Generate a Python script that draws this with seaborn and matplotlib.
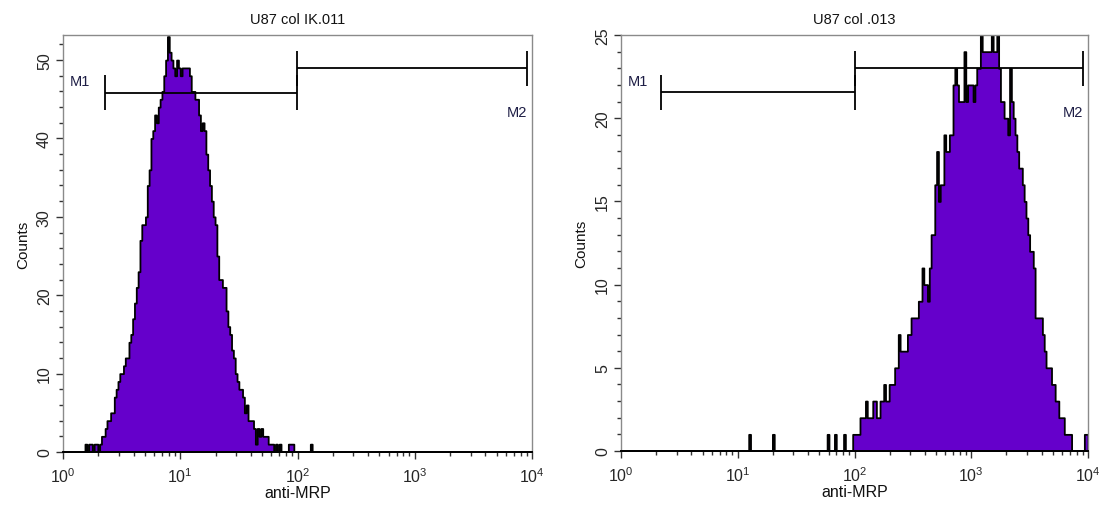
import numpy as np
import pandas as pd
import matplotlib
matplotlib.use("Agg")
import matplotlib.pyplot as plt
import matplotlib.transforms as mtransforms
from matplotlib.ticker import FixedLocator, MultipleLocator, NullFormatter
import seaborn as sns

# ---- acquisition layout: 256 log channels over four decades ----
N_CHANNELS = 256
DECADES = 4

titles = ["U87 col IK.011", "U87 col .013"]
x_label = "anti-MRP"
y_label = "Counts"
decade_ticks = [1, 10, 100, 1000, 10000]
decade_labels = ["$10^{0}$", "$10^{1}$", "$10^{2}$", "$10^{3}$", "$10^{4}$"]

# ---- event counts per channel (first listed channel given by *_start) ----
ctrl_start = 12
ctrl_counts = [
    1, 0, 1, 1, 0, 1, 1, 0, 1,
    2, 2, 3, 4, 4, 5, 5, 7, 8, 9,
    10, 10, 11, 12, 12, 14, 15, 17, 19, 21,
    23, 27, 29, 29, 30, 34, 36, 40, 41, 43,
    42, 44, 45, 46, 48, 50, 53, 51, 50, 49,
    48, 50, 49, 48, 49, 49, 49, 49, 48, 46,
    46, 45, 45, 43, 41, 42, 41, 38, 36, 34,
    32, 30, 29, 25, 22, 22, 21, 21, 18, 16,
    15, 13, 12, 10, 9, 8, 8, 7, 5, 6,
    4, 4, 4, 3, 1, 3, 2, 3, 2, 2,
    2, 1, 1, 1, 0, 1, 0, 1, 0, 0,
    0, 0, 1, 1, 1, 0, 0, 0, 0, 0,
    0, 0, 0, 0, 1,
]

stain_start = 70
stain_counts = (
    [1] + [0] * 12 + [1] + [0] * 29 +
    [1, 0, 0, 0, 1, 0, 0, 0,
     0, 1, 0, 0, 0, 0, 1, 1, 1, 1,
     2, 2, 2, 3, 2, 2, 2, 3, 3, 2,
     2, 3, 3, 4, 3, 3, 4, 4, 4, 5,
     5, 7, 6, 6, 6, 6, 7, 7, 8, 8,
     8, 8, 9, 9, 11, 10, 10, 9, 11, 13,
     13, 16, 18, 15, 16, 16, 19, 18, 18, 19,
     19, 22, 23, 22, 21, 21, 21, 24, 21, 22,
     22, 22, 21, 22, 23, 23, 25, 24, 24, 24,
     24, 24, 25, 24, 24, 25, 23, 21, 21, 20,
     20, 19, 23, 21, 20, 19, 18, 17, 17, 16,
     15, 14, 13, 12, 12, 11, 8, 8, 8, 8,
     7, 6, 5, 5, 5, 4, 4, 3, 3, 2,
     2, 2, 1, 1, 1, 1, 0, 0, 0, 0,
     0, 0, 0, 1, 1]
)

# ---- marker gates (M1, M2) as intensity ranges ----
gate_names = ["M1", "M2"]
ctrl_gates = [(2.3, 99.0), (99.0, 9000.0)]
stain_gates = [(2.2, 100.0), (100.0, 9000.0)]

y_limits = [53.2, 25]
y_major = [10, 5]
y_minor = [2, 1]

PURPLE = "#6500cb"
FRAME = "#8a8a8a"

sns.set_theme(style="ticks")
plt.rcParams["font.family"] = ["Liberation Sans", "DejaVu Sans"]
plt.rcParams.update({
    "mathtext.fontset": "custom",
    "mathtext.rm": "Liberation Sans",
    "mathtext.it": "Liberation Sans:italic",
    "mathtext.bf": "Liberation Sans:bold",
    "mathtext.default": "rm",
    "axes.facecolor": "white",
    "figure.facecolor": "white",
})


def channel_table(start, counts):
    full = np.zeros(N_CHANNELS)
    full[start:start + len(counts)] = counts
    centers = 10 ** ((np.arange(N_CHANNELS) + 0.5) * DECADES / N_CHANNELS)
    return pd.DataFrame({"intensity": centers, "count": full})


fig = plt.figure(figsize=(11.1, 5.1), dpi=100)
ax_positions = [
    [63 / 1110, 57 / 510, 469 / 1110, 417 / 510],
    [621 / 1110, 58 / 510, 467 / 1110, 416 / 510],
]

panels = [
    (channel_table(ctrl_start, ctrl_counts), ctrl_gates),
    (channel_table(stain_start, stain_counts), stain_gates),
]

for i, (df, gates) in enumerate(panels):
    ax = fig.add_axes(ax_positions[i])
    sns.histplot(
        data=df, x="intensity", weights="count",
        bins=N_CHANNELS, binrange=(0, DECADES), log_scale=True,
        element="step", fill=True, color=PURPLE, alpha=1.0,
        edgecolor="black", linewidth=1.3, ax=ax,
    )
    ax.set_xlim(1, 10 ** DECADES)
    ax.set_ylim(0, y_limits[i])

    ax.xaxis.set_major_locator(FixedLocator(decade_ticks))
    ax.set_xticklabels(decade_labels)
    minor = [m * 10 ** d for d in range(DECADES) for m in range(2, 10)]
    ax.xaxis.set_minor_locator(FixedLocator(minor))
    ax.xaxis.set_minor_formatter(NullFormatter())
    ax.yaxis.set_major_locator(MultipleLocator(y_major[i]))
    ax.yaxis.set_minor_locator(MultipleLocator(y_minor[i]))

    ax.tick_params(axis="both", which="major", direction="out", length=5,
                   width=1.0, color="#333333", labelsize=11.5, pad=3)
    ax.tick_params(axis="x", which="major", pad=5)
    ax.tick_params(axis="both", which="minor", direction="out", length=3,
                   width=1.0, color="#333333")
    ax.tick_params(axis="y", labelrotation=90)
    for lab in ax.get_yticklabels():
        lab.set_va("center")

    for side in ["top", "right", "left"]:
        ax.spines[side].set_color(FRAME)
        ax.spines[side].set_linewidth(1.0)
    ax.spines["bottom"].set_color("black")
    ax.spines["bottom"].set_linewidth(1.4)

    ax.set_title(titles[i], fontsize=10.5, pad=9, color="#111111")
    ax.set_xlabel(x_label, fontsize=11.5, labelpad=0, color="#111111")
    ax.set_ylabel(y_label, fontsize=11, labelpad=5, color="#111111")

    # marker gates: data x, axes-fraction y
    trans = mtransforms.blended_transform_factory(ax.transData, ax.transAxes)
    bar_y = [0.862, 0.92]
    half = 0.042
    for (lo, hi), yb in zip(gates, bar_y):
        ax.plot([lo, hi], [yb, yb], color="black", lw=1.3, transform=trans,
                solid_capstyle="butt")
        for xe in (lo, hi):
            ax.plot([xe, xe], [yb - half, yb + half], color="black", lw=1.3,
                    transform=trans, solid_capstyle="butt")
    ax.text(0.015, 0.89, gate_names[0], transform=ax.transAxes, fontsize=10.5,
            ha="left", va="center", color="#1d1d45")
    ax.text(gates[1][1], 0.815, gate_names[1], transform=trans, fontsize=10.5,
            ha="right", va="center", color="#1d1d45")

fig.savefig("out.png", dpi=100)
